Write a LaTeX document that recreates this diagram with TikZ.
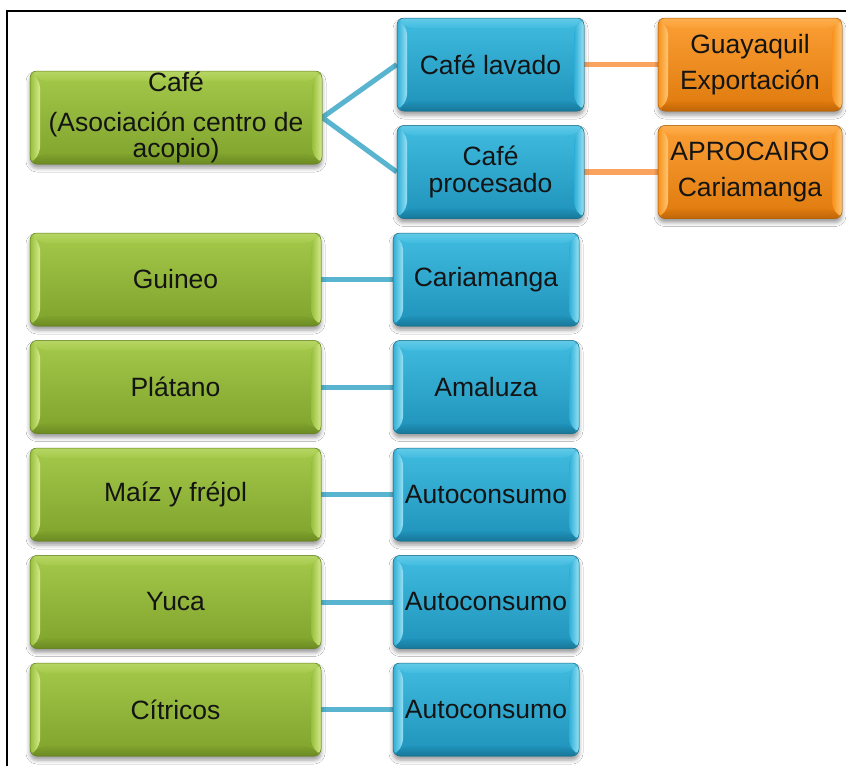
\documentclass[tikz,border=0pt]{standalone}
\usepackage{fontspec}
\setmainfont{Liberation Sans}
\usetikzlibrary{shadows.blur,backgrounds}

% palettes: Top / Base / Bot / Light / Dark
\definecolor{grnTop}{HTML}{A4C94A}
\definecolor{grnBase}{HTML}{96BE3B}
\definecolor{grnBot}{HTML}{7FA22C}
\definecolor{grnLight}{HTML}{D4EA8C}
\definecolor{grnDark}{HTML}{62801E}
\definecolor{bluTop}{HTML}{40BCE0}
\definecolor{bluBase}{HTML}{2DAED6}
\definecolor{bluBot}{HTML}{1F92BA}
\definecolor{bluLight}{HTML}{98E0F3}
\definecolor{bluDark}{HTML}{156C8A}
\definecolor{orgTop}{HTML}{FB9F35}
\definecolor{orgBase}{HTML}{F7911D}
\definecolor{orgBot}{HTML}{DF7A0D}
\definecolor{orgLight}{HTML}{FFC774}
\definecolor{orgDark}{HTML}{B05E06}
\definecolor{lnBlue}{HTML}{58B4CF}
\definecolor{lnOrange}{HTML}{F9A35F}

\newcommand\bevw{10pt}

\tikzset{
  bevel/.style={
    rounded corners=7pt, inner sep=0pt, align=center, text=black!92,
    top color=#1Top, bottom color=#1Bot, draw=#1Dark, line width=0.5pt,
    blur shadow={shadow xshift=0pt, shadow yshift=-4pt,
                 shadow blur radius=4pt, shadow opacity=40},
    path picture={
      \coordinate (pA) at (path picture bounding box.north west);
      \coordinate (pB) at (path picture bounding box.north east);
      \coordinate (pC) at (path picture bounding box.south east);
      \coordinate (pD) at (path picture bounding box.south west);
      % left facet
      \shade[left color=#1Base, right color=#1Light]
        (pA) -- ([xshift=\bevw,yshift=-\bevw]pA) -- ([xshift=\bevw,yshift=\bevw]pD) -- (pD) -- cycle;
      % right facet
      \shade[left color=#1Base, right color=#1Light]
        (pB) -- ([xshift=-\bevw,yshift=-\bevw]pB) -- ([xshift=-\bevw,yshift=\bevw]pC) -- (pC) -- cycle;
      % top facet
      \shade[top color=#1Top!60!#1Light, bottom color=#1Top]
        (pA) -- (pB) -- ([xshift=-\bevw,yshift=-\bevw]pB) -- ([xshift=\bevw,yshift=-\bevw]pA) -- cycle;
      % bottom facet
      \shade[top color=#1Bot, bottom color=#1Dark!70!#1Bot]
        (pD) -- (pC) -- ([xshift=-\bevw,yshift=\bevw]pC) -- ([xshift=\bevw,yshift=\bevw]pD) -- cycle;
    }
  },
  crop/.style={bevel=grn, minimum width=291pt, minimum height=93pt,
               font=\fontsize{26.5}{27.5}\selectfont},
  dest/.style={bevel=blu, minimum width=187pt, minimum height=93pt,
               font=\fontsize{26.5}{27.5}\selectfont},
  final/.style={bevel=org, minimum width=184pt, minimum height=93pt,
                font=\fontsize{26.5}{27.5}\selectfont},
  linkb/.style={draw=lnBlue, line width=5pt},
  linko/.style={draw=lnOrange, line width=5.5pt},
}

\begin{document}
\begin{tikzpicture}[x=1pt,y=-1pt]
  \useasboundingbox (0,0) rectangle (846,766);
  % frame
  \draw[line width=2pt, black] (7,766) -- (7,11) -- (846,11);

  % coffee branch
  \node[crop, minimum width=292pt, font=\fontsize{26.5}{26}\selectfont]
    (cafe) at (176,117.5) {Café\\[14pt](Asociación centro de\\acopio)};
  \node[dest] (lavado) at (490.5,64.5) {Café lavado};
  \node[dest] (proc) at (490.5,172) {Café\\procesado};
  \node[final] (guaya) at (750,64.5) {Guayaquil\\[8.5pt]Exportación};
  \node[final] (apro) at (750,172) {APROCAIRO\\[8.5pt]Cariamanga};

  % other crops
  \node[crop] (guineo) at (175.5,279.5) {Guineo};
  \node[crop] (platano) at (175.5,387) {Plátano};
  \node[crop] (maiz) at (175.5,494.5) {Maíz y fréjol};
  \node[crop] (yuca) at (175.5,602) {Yuca};
  \node[crop] (citricos) at (175.5,709.5) {Cítricos};

  \node[dest, minimum width=186pt] (cari) at (486,279.5) {Cariamanga};
  \node[dest, minimum width=186pt] (amal) at (486,387) {Amaluza};
  \node[dest, minimum width=186pt] (auto1) at (486,494.5) {Autoconsumo};
  \node[dest, minimum width=186pt] (auto2) at (486,602) {Autoconsumo};
  \node[dest, minimum width=186pt] (auto3) at (486,709.5) {Autoconsumo};

  \begin{scope}[on background layer]
    \fill[white] (0,0) rectangle (846,766);
    \draw[linkb] (cafe.east) -- (lavado.west);
    \draw[linkb] (cafe.east) -- (proc.west);
    \draw[linko] (lavado) -- (guaya);
    \draw[linko] (proc) -- (apro);
    \draw[linkb] (guineo) -- (cari);
    \draw[linkb] (platano) -- (amal);
    \draw[linkb] (maiz) -- (auto1);
    \draw[linkb] (yuca) -- (auto2);
    \draw[linkb] (citricos) -- (auto3);
  \end{scope}
\end{tikzpicture}
\end{document}
